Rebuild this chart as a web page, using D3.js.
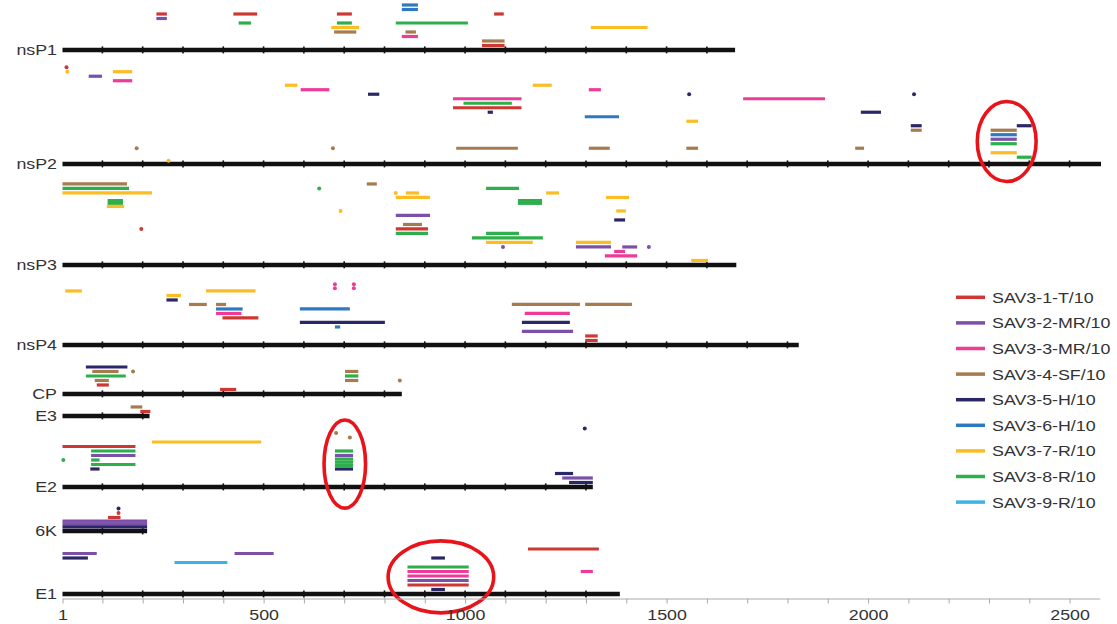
<!DOCTYPE html>
<html>
<head>
<meta charset="utf-8">
<script src="https://cdn.jsdelivr.net/npm/d3@7"></script>
<style>
  body { margin: 0; background: #fff; }
  svg { display: block; font-family: "Liberation Sans", Arial, sans-serif; }
</style>
</head>
<body>
<div id="chart"></div>
<script>
// gene names and lengths (nt)
const genes = ["nsP1", "nsP2", "nsP3", "nsP4", "CP", "E3", "E2", "6K", "E1"];
const geneLengths = [1670, 2578, 1673, 1828, 843, 217, 1317, 211, 1384];

// samples (legend order)
const samples = ["SAV3-1-T/10", "SAV3-2-MR/10", "SAV3-3-MR/10", "SAV3-4-SF/10", "SAV3-5-H/10",
                 "SAV3-6-H/10", "SAV3-7-R/10", "SAV3-8-R/10", "SAV3-9-R/10"];

// regions per gene: [start nt, end nt, sample no., lane]
const nsP1Regions = [
  [234, 260, 1, 8], [234, 260, 2, 7], [425, 484, 1, 8], [438, 469, 8, 6],
  [682, 719, 1, 8], [682, 719, 8, 6], [668, 737, 7, 5], [675, 730, 4, 4],
  [843, 883, 6, 10], [843, 883, 6, 9], [828, 1007, 8, 6], [852, 878, 4, 4],
  [843, 883, 3, 3], [1072, 1096, 1, 8], [1042, 1098, 4, 2], [1042, 1098, 1, 1],
  [1312, 1453, 7, 5]
];
const nsP2Regions = [
  [8, 14, 1, 21.5], [10, 16, 7, 20.5], [66, 99, 2, 19.5], [126, 174, 7, 20.5],
  [126, 174, 3, 18.5], [553, 584, 7, 17.5], [592, 663, 3, 16.5], [759, 787, 5, 15.5],
  [970, 1140, 3, 14.5], [996, 1116, 8, 13.5], [970, 1140, 1, 12.5], [1056, 1069, 5, 11.5],
  [181, 189, 4, 3.5], [668, 676, 4, 3.5], [978, 1131, 4, 3.5], [260, 268, 7, 0.7],
  [1168, 1215, 7, 17.5], [1307, 1337, 3, 16.5], [1552, 1560, 5, 15.5], [1690, 1893, 3, 14.5],
  [1297, 1382, 6, 10.5], [1549, 1578, 7, 9.5], [1307, 1359, 4, 3.5], [1549, 1578, 4, 3.5],
  [1982, 2032, 5, 11.5], [2110, 2118, 5, 15.5], [2106, 2133, 5, 8.5], [2106, 2133, 4, 7.5],
  [1968, 1990, 4, 3.5], [2304, 2369, 4, 7.5], [2304, 2369, 6, 6.5], [2304, 2369, 2, 5.5],
  [2304, 2369, 8, 4.5], [2304, 2369, 7, 2.5], [2369, 2406, 5, 8.5], [2369, 2406, 8, 1.5]
];
const nsP3Regions = [
  [1, 161, 4, 18], [1, 166, 8, 17], [1, 223, 7, 16], [636, 640, 8, 17],
  [756, 781, 4, 18], [826, 830, 7, 16], [853, 886, 7, 16], [828, 913, 7, 15],
  [1052, 1134, 8, 17], [1201, 1233, 7, 16], [1131, 1191, 8, 14.3], [1131, 1191, 8, 13.7],
  [1350, 1407, 7, 15], [113, 151, 8, 14.3], [113, 151, 8, 13.7], [111, 154, 7, 13],
  [689, 693, 7, 12], [1375, 1399, 7, 12], [828, 913, 2, 11], [1370, 1397, 5, 10],
  [846, 893, 4, 9], [195, 198, 1, 8], [828, 908, 1, 8], [828, 908, 8, 7],
  [1052, 1134, 8, 7], [1017, 1193, 8, 6], [1052, 1168, 7, 5], [1090, 1098, 2, 4],
  [1275, 1362, 7, 5], [1275, 1362, 2, 4], [1390, 1427, 2, 4], [1454, 1458, 2, 4],
  [1370, 1397, 3, 3], [1347, 1427, 3, 2], [1561, 1603, 7, 1]
];
const nsP4Regions = [
  [8, 49, 7, 12], [259, 295, 7, 11], [259, 287, 5, 10], [357, 480, 7, 12],
  [315, 359, 4, 9], [382, 407, 4, 9], [382, 448, 6, 8], [382, 445, 3, 7],
  [398, 487, 1, 6], [673, 681, 3, 13.5], [673, 681, 3, 12.6], [720, 728, 3, 13.5],
  [720, 728, 3, 12.6], [590, 714, 6, 8], [590, 801, 5, 5], [677, 690, 6, 4],
  [1116, 1285, 4, 9], [1298, 1414, 4, 9], [1148, 1260, 3, 7], [1141, 1260, 5, 5],
  [1141, 1268, 2, 3], [1298, 1329, 1, 2], [1298, 1329, 1, 1]
];
const cpRegions = [
  [59, 162, 5, 6], [75, 140, 4, 5], [172, 180, 4, 5], [59, 158, 8, 4],
  [81, 116, 4, 3], [86, 116, 1, 2], [392, 432, 1, 1], [702, 735, 4, 5],
  [702, 735, 8, 4], [702, 735, 4, 3], [834, 842, 4, 3]
];
const e3Regions = [[170, 199, 4, 2], [194, 219, 1, 1]];
const e2Regions = [
  [1293, 1301, 5, 13], [676, 684, 4, 12], [710, 718, 4, 11], [223, 494, 7, 10],
  [1, 182, 1, 9], [72, 182, 8, 8], [72, 182, 2, 7], [1, 5, 8, 6],
  [72, 93, 8, 6], [72, 182, 8, 5], [70, 93, 5, 4], [677, 722, 8, 8],
  [677, 722, 2, 7], [677, 722, 8, 6.2], [677, 722, 8, 5.5], [677, 722, 8, 4.8],
  [677, 722, 5, 4], [1223, 1268, 5, 3], [1241, 1317, 2, 2], [1258, 1317, 5, 1]
];
const k6Regions = [
  [136, 144, 5, 5], [136, 144, 1, 4], [114, 145, 1, 3],
  [1, 211, 2, 2.2], [1, 211, 2, 1.6], [1, 211, 5, 0.9]
];
const e1Regions = [
  [1, 86, 2, 9], [1, 64, 5, 8], [279, 410, 9, 7], [428, 525, 2, 9],
  [1156, 1332, 1, 10], [916, 950, 5, 8], [857, 1009, 8, 6], [857, 1009, 3, 5],
  [857, 1009, 3, 4], [857, 1009, 2, 3], [857, 1009, 1, 2], [916, 950, 5, 1],
  [1287, 1317, 3, 5]
];
const regionsByGene = [nsP1Regions, nsP2Regions, nsP3Regions, nsP4Regions, cpRegions,
                       e3Regions, e2Regions, k6Regions, e1Regions];

// circled regions: gene index, nt range, lane range
const highlights = [
  [1, 2271, 2417, -3.9, 13.9],
  [6, 650, 753, -4.7, 14.9],
  [8, 809, 1071, -4.2, 11.8]
];

// axis ticks
const axisTicks = d3.range(0, 2501, 100).map(d => d === 0 ? 1 : d);
const axisLabels = [1, 500, 1000, 1500, 2000, 2500];

// ---- layout / style ----
const width = 1117, height = 624;
const colors = ["#cc3935", "#7c4fa9", "#ee3b97", "#a67b4f", "#2a2766",
                "#2f79c1", "#fbbd22", "#2daf4b", "#3db3e5"];
const laneH = 4.5;                        // px per lane
const trackLanes = [11.11, 25.33, 22.44, 17.78, 10.89, 4.89, 15.78, 9.78, 14.0];
const baselines = d3.cumsum(trackLanes).map(v => v * laneH);
const textScale = "scale(1.15,1)";

const x = d3.scaleLinear().domain([1, 2575]).range([62.5, 1099.8]);
const lane = (g, r) => baselines[g] - r * laneH;

const svg = d3.select("#chart").append("svg")
    .attr("width", width)
    .attr("height", height);

// gene tracks
const track = svg.selectAll("g.track")
    .data(genes)
    .join("g")
    .attr("class", "track");

track.append("line")
    .attr("x1", x(1))
    .attr("x2", (d, i) => x(geneLengths[i]))
    .attr("y1", (d, i) => baselines[i])
    .attr("y2", (d, i) => baselines[i])
    .attr("stroke", "#111")
    .attr("stroke-width", 4.5);

track.each(function (d, i) {
    const ticks = d3.range(100, geneLengths[i], 100);
    d3.select(this).selectAll("line.tk")
        .data(ticks)
        .join("line")
        .attr("class", "tk")
        .attr("x1", t => x(t)).attr("x2", t => x(t))
        .attr("y1", baselines[i] - 3.6).attr("y2", baselines[i] + 3.4)
        .attr("stroke", "#111")
        .attr("stroke-width", 1.6);
});

track.append("text")
    .attr("transform", (d, i) => `translate(57,${baselines[i]}) ${textScale}`)
    .attr("text-anchor", "end")
    .attr("dy", "0.35em")
    .attr("font-size", 15.5)
    .attr("fill", "#333")
    .text(d => d);

// regions
regionsByGene.forEach((regions, g) => {
    const grp = svg.append("g");
    const dots = regions.filter(r => r[1] - r[0] < 10);
    const bars = regions.filter(r => r[1] - r[0] >= 10);
    grp.selectAll("line")
        .data(bars)
        .join("line")
        .attr("x1", r => x(r[0]))
        .attr("x2", r => x(r[1]))
        .attr("y1", r => lane(g, r[3]))
        .attr("y2", r => lane(g, r[3]))
        .attr("stroke", r => colors[r[2] - 1])
        .attr("stroke-width", 3.2);
    grp.selectAll("circle")
        .data(dots)
        .join("circle")
        .attr("cx", r => x((r[0] + r[1]) / 2))
        .attr("cy", r => lane(g, r[3]))
        .attr("r", 2)
        .attr("fill", r => colors[r[2] - 1]);
});

// red ellipses
svg.append("g").selectAll("ellipse")
    .data(highlights)
    .join("ellipse")
    .attr("cx", h => (x(h[1]) + x(h[2])) / 2)
    .attr("cy", h => (lane(h[0], h[3]) + lane(h[0], h[4])) / 2)
    .attr("rx", h => (x(h[2]) - x(h[1])) / 2)
    .attr("ry", h => (lane(h[0], h[3]) - lane(h[0], h[4])) / 2)
    .attr("fill", "none")
    .attr("stroke", "#e8141b")
    .attr("stroke-width", 3.6);

// bottom axis
const axisY = baselines[baselines.length - 1] + 4.5;
const axis = svg.append("g")
    .attr("transform", `translate(0,${axisY})`)
    .call(d3.axisBottom(x)
        .tickValues(axisTicks)
        .tickSize(5)
        .tickSizeOuter(0)
        .tickPadding(6)
        .tickFormat(d => axisLabels.includes(d) ? d : ""));
axis.select(".domain").attr("stroke", "#aaa");
axis.selectAll(".tick line").attr("stroke", "#aaa");
axis.selectAll(".tick text")
    .attr("font-family", "Liberation Sans, Arial, sans-serif")
    .attr("font-size", 15.5)
    .attr("fill", "#333")
    .attr("transform", textScale);

// legend
const legend = svg.append("g")
    .selectAll("g")
    .data(samples)
    .join("g")
    .attr("transform", (d, i) => `translate(956,${297.3 + i * 25.6})`);
legend.append("line")
    .attr("x1", 0).attr("x2", 29)
    .attr("stroke", (d, i) => colors[i])
    .attr("stroke-width", 3.5);
legend.append("text")
    .attr("transform", `translate(36,0) ${textScale}`)
    .attr("dy", "0.35em")
    .attr("font-size", 15.5)
    .attr("fill", "#333")
    .text(d => d);
</script>
</body>
</html>
